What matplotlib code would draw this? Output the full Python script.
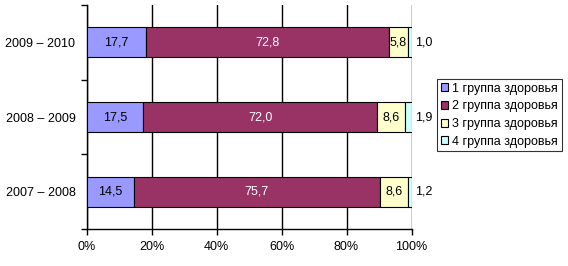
import numpy as np
import matplotlib
matplotlib.use("Agg")
import matplotlib.pyplot as plt

plt.rcParams["font.family"] = ["Liberation Sans", "DejaVu Sans"]

# data (bottom to top as drawn)
periods = ["2007 – 2008", "2008 – 2009", "2009 – 2010"]
group1 = [14.5, 17.5, 17.7]
group2 = [75.7, 72.0, 72.8]
group3 = [8.6, 8.6, 5.8]
group4 = [1.2, 1.9, 1.0]
names = ["1 группа здоровья", "2 группа здоровья", "3 группа здоровья", "4 группа здоровья"]
colors = ["#9999FF", "#993366", "#FFFFCC", "#CCFFFF"]
text_colors = ["black", "white", "black", "black"]

series = np.array([group1, group2, group3, group4])
totals = series.sum(axis=0)
shares = series / totals * 100

fs = 9

fig = plt.figure(figsize=(5.68, 2.66), dpi=100)
ax = fig.add_axes([86.5 / 568, 1 - 229 / 266, 325 / 568, 224 / 266])

y = np.arange(len(periods))
left = np.zeros(len(periods))
for i in range(4):
    ax.barh(y, shares[i], left=left, height=0.4, color=colors[i],
            edgecolor="black", linewidth=0.8, label=names[i], zorder=3)
    for j in range(len(periods)):
        lbl = f"{series[i][j]:.1f}".replace(".", ",")
        if i < 3:
            ax.text(left[j] + shares[i][j] / 2, y[j], lbl, ha="center", va="center",
                    fontsize=fs, color=text_colors[i], zorder=4)
        else:
            ax.text(101.2, y[j], lbl, ha="left", va="center", fontsize=fs,
                    color="black", zorder=4, clip_on=False)
    left += shares[i]

ax.set_xlim(0, 100)
ax.set_ylim(-0.5, 2.5)
ax.set_xticks(np.arange(0, 101, 20))
ax.set_xticklabels([f"{v}%" for v in range(0, 101, 20)], fontsize=fs)
ax.set_yticks(y)
ax.set_yticklabels(periods, fontsize=fs)
ax.set_yticks([-0.5, 0.5, 1.5, 2.5], minor=True)
ax.tick_params(axis="y", which="major", length=0, pad=8)
ax.tick_params(axis="y", which="minor", length=4, width=1, direction="out")
ax.tick_params(axis="x", length=4, width=1, direction="out", pad=5)

ax.grid(axis="x", color="black", linewidth=1, zorder=1)
for s in ["top", "right"]:
    ax.spines[s].set_visible(False)
for s in ["left", "bottom"]:
    ax.spines[s].set_linewidth(1)

leg = ax.legend(loc="upper left", bbox_to_anchor=(437 / 568, 1 - 79 / 266),
                bbox_transform=fig.transFigure, fontsize=fs, frameon=True,
                fancybox=False, handlelength=0.6, handleheight=0.6,
                handletextpad=0.3, borderpad=0.3, labelspacing=0.45,
                borderaxespad=0)
leg.get_frame().set_edgecolor("black")
leg.get_frame().set_linewidth(0.8)

fig.savefig("out.png", dpi=100)
